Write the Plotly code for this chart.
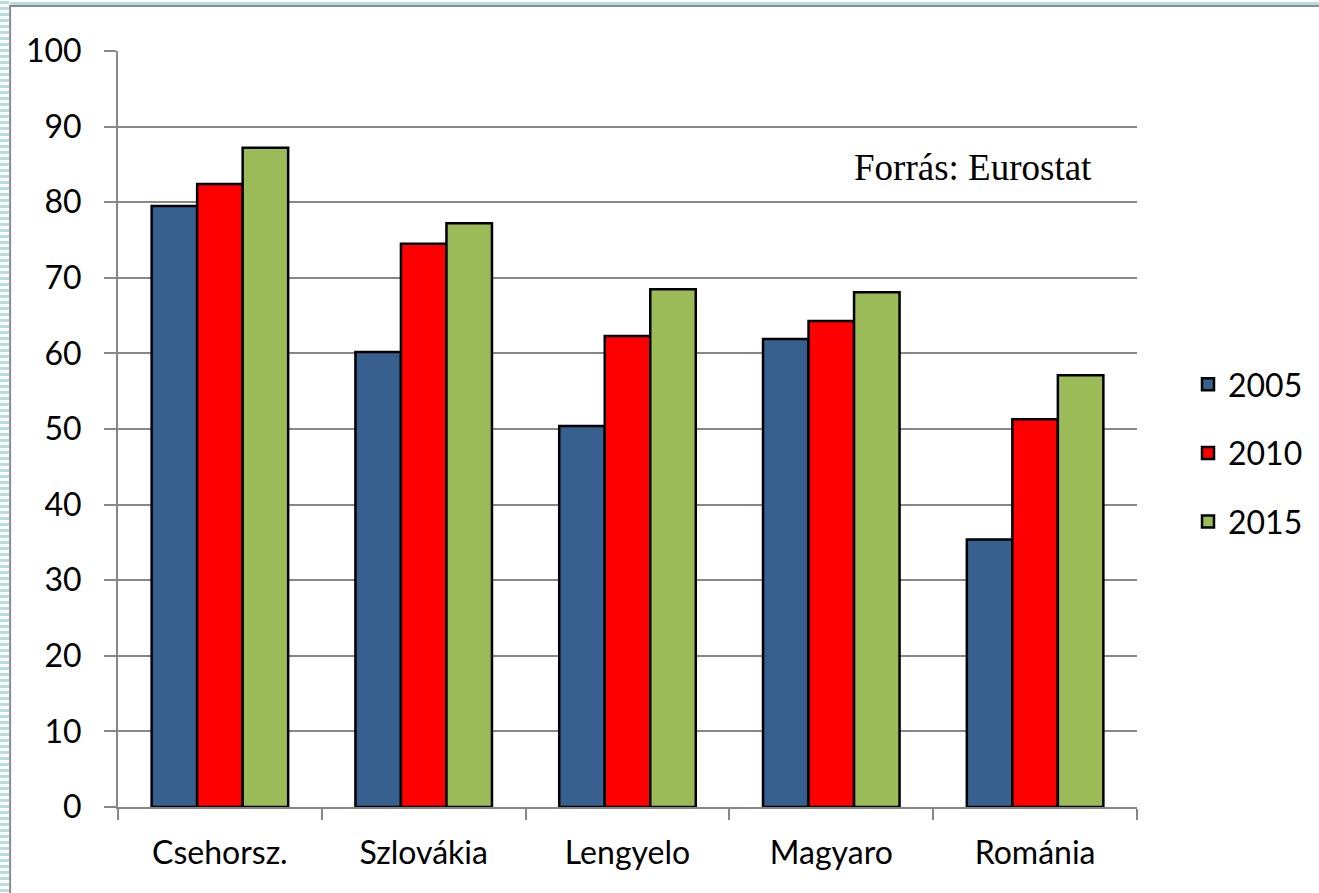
import plotly.graph_objects as go

countries = ['Csehorsz.', 'Szlovákia', 'Lengyelo', 'Magyaro', 'Románia']
years = ['2005', '2010', '2015']
v2005 = [79.5, 60.2, 50.4, 61.9, 35.4]
v2010 = [82.4, 74.5, 62.3, 64.3, 51.3]
v2015 = [87.2, 77.2, 68.5, 68.1, 57.1]
colors = ['#38608F', '#FF0000', '#9BBB59']

W, H = 1319, 893
L, R, T, B = 118, 1138, 51, 807


def px_x(p):
    return (p - L) / (R - L)


def px_y(p):
    return (B - p) / (B - T)


fig = go.Figure()
for i, (yr, vals) in enumerate(zip(years, [v2005, v2010, v2015])):
    fig.add_trace(go.Bar(
        x=countries, y=vals, name=yr, legendgroup=yr,
        marker=dict(color=colors[i], line=dict(color='black', width=2.5)),
    ))

axis_grey = '#878787'
font_main = 'Lato, Calibri, sans-serif'

fig.update_layout(
    width=W, height=H,
    margin=dict(l=L, r=W - R, t=T, b=H - B, pad=0),
    paper_bgcolor='white', plot_bgcolor='white',
    barmode='group', bargap=0.33, bargroupgap=0,
    font=dict(family=font_main, size=32, color='black'),
    showlegend=True,
    legend=dict(
        x=px_x(1188), y=px_y(453), xanchor='left', yanchor='middle',
        font=dict(size=32), tracegroupgap=24, itemwidth=30,
        bgcolor='rgba(0,0,0,0)',
    ),
    xaxis=dict(
        showgrid=False, showline=True, linecolor=axis_grey, linewidth=2,
        ticks='outside', tickson='boundaries', ticklen=11, tickwidth=2,
        tickcolor=axis_grey, ticklabelstandoff=17,
    ),
    yaxis=dict(
        range=[0, 100], dtick=10, showgrid=True, gridcolor=axis_grey, gridwidth=2,
        showline=True, linecolor=axis_grey, linewidth=2, zeroline=False,
        ticks='outside', ticklen=12, tickwidth=2, tickcolor=axis_grey,
        ticklabelstandoff=16,
    ),
)

fig.add_annotation(
    text='Forrás: Eurostat', xref='paper', yref='paper',
    x=px_x(853), y=px_y(167), xanchor='left', yanchor='middle', showarrow=False,
    font=dict(family='Liberation Serif, Times New Roman, serif', size=37, color='black'),
)

# frame around the chart, as in the original page
fig.add_shape(type='line', xref='paper', yref='paper',
              x0=px_x(4.5), x1=px_x(4.5), y0=px_y(H + 5), y1=px_y(0),
              line=dict(color='#B5DCE0', width=9, dash='3px,3px'))
fig.add_shape(type='line', xref='paper', yref='paper',
              x0=px_x(10), x1=px_x(10), y0=px_y(H + 5), y1=px_y(5),
              line=dict(color='#8C8C8C', width=2))
fig.add_shape(type='line', xref='paper', yref='paper',
              x0=px_x(10), x1=px_x(W + 5), y0=px_y(3.5), y1=px_y(3.5),
              line=dict(color='#B5DCE0', width=3))
fig.add_shape(type='line', xref='paper', yref='paper',
              x0=px_x(10), x1=px_x(W + 5), y0=px_y(6), y1=px_y(6),
              line=dict(color='#8C8C8C', width=2))

fig.write_html("out.html", config={'displayModeBar': False},
               post_script="document.body.style.margin='0';")
